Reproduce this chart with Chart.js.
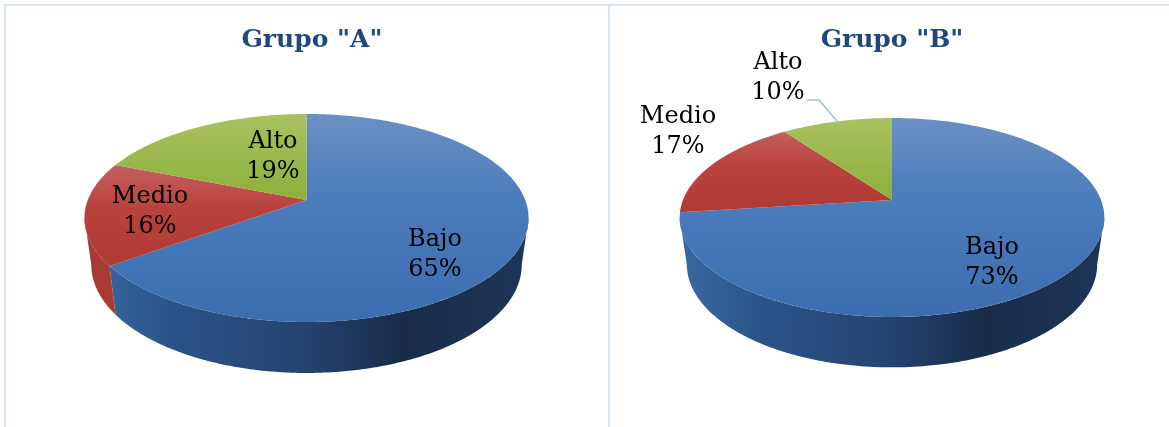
<!DOCTYPE html>
<html>
<head>
<meta charset="utf-8">
<title>Grupos</title>
<script src="https://cdn.jsdelivr.net/npm/chart.js@4/dist/chart.umd.min.js"></script>
<style>
    html, body { margin: 0; padding: 0; background: #fff; }
    #page { position: relative; width: 1169px; height: 427px; overflow: hidden; }
    canvas { position: absolute; top: 0; }
    #chartA { left: 0; }
    #chartB { left: 610px; }
    .rule { position: absolute; background: #d6e4f5; }
</style>
</head>
<body>
<div id="page">
    <div class="rule" style="left:4px;top:4px;width:1165px;height:2px"></div>
    <div class="rule" style="left:4px;top:4px;width:2px;height:423px"></div>
    <div class="rule" style="left:608px;top:4px;width:2px;height:423px"></div>
    <canvas id="chartA" width="624" height="427"></canvas>
    <canvas id="chartB" width="564" height="427"></canvas>
</div>
<script>
const categories = ["Bajo", "Medio", "Alto"];
const grupoA = [65, 16, 19];
const grupoB = [73, 17, 10];

const FONT = '"DejaVu Serif", serif';

// colour ramps for the top face and the rim of each slice
const topStops = [
    ["#6b8fc4", "#4a7bbb", "#3c6daf"],
    ["#c4605e", "#b8433e", "#b03a34"],
    ["#a9c262", "#9dba50", "#8cb03b"],
];
const rimStops = [
    ["#3768a0", "#2b5388", "#24436f", "#182c4a", "#1c3557"],
    ["#a83b33", "#a83b33", "#a83b33", "#8f2f2b", "#8f2f2b"],
    ["#7d9a35", "#7d9a35", "#6d8a2c", "#5f7a26", "#5f7a26"],
];

// Chart.js works out the slice angles, this plugin paints them as a tilted disc
const tiltedPie = {
    id: "tiltedPie",
    beforeDatasetsDraw(chart, args, o) {
        const ctx = chart.ctx;
        const arcs = chart.getDatasetMeta(0).data;

        const project = (ang, low) => {
            const u = Math.cos(ang), v = Math.sin(ang);
            const w = 1 - o.k * v;
            return low
                ? [o.cx + o.bLow * u / w, o.cy + o.drop + o.aLow * v / w]
                : [o.cx + o.b * u / w, o.cy + o.a * v / w];
        };
        const trace = (from, to, low) => {
            const pts = [];
            const steps = Math.max(2, Math.ceil(Math.abs(to - from) / 0.01));
            for (let i = 0; i <= steps; i++) {
                pts.push(project(from + (to - from) * i / steps, low));
            }
            return pts;
        };
        const fillPath = (pts, style) => {
            ctx.beginPath();
            pts.forEach((p, j) => j ? ctx.lineTo(p[0], p[1]) : ctx.moveTo(p[0], p[1]));
            ctx.closePath();
            ctx.fillStyle = style;
            ctx.fill();
        };

        ctx.save();
        // rim first, only the part facing the viewer
        const edge = Math.asin(o.k);
        arcs.forEach((arc, i) => {
            const from = Math.max(arc.startAngle, edge);
            const to = Math.min(arc.endAngle, Math.PI - edge);
            if (to <= from) return;
            const grad = ctx.createLinearGradient(o.cx - o.b, 0, o.cx + o.b, 0);
            [0, 0.2, 0.5, 0.72, 1].forEach((p, j) => grad.addColorStop(p, rimStops[i][j]));
            fillPath(trace(from, to, false).concat(trace(from, to, true).reverse()), grad);
        });
        // top face, each slice shaded over its own height
        arcs.forEach((arc, i) => {
            const pts = [[o.cx, o.cy]].concat(trace(arc.startAngle, arc.endAngle, false));
            const ys = pts.map(p => p[1]);
            const grad = ctx.createLinearGradient(0, Math.min(...ys), 0, Math.max(...ys));
            grad.addColorStop(0, topStops[i][0]);
            grad.addColorStop(0.42, topStops[i][1]);
            grad.addColorStop(1, topStops[i][2]);
            fillPath(pts, grad);
        });
        ctx.restore();
        return false;
    },
    afterDraw(chart, args, o) {
        const ctx = chart.ctx;
        ctx.save();
        if (o.leader) {
            ctx.beginPath();
            o.leader.forEach((p, j) => j ? ctx.lineTo(p[0], p[1]) : ctx.moveTo(p[0], p[1]));
            ctx.strokeStyle = "#9cc2ea";
            ctx.lineWidth = 1.6;
            ctx.stroke();
        }
        ctx.fillStyle = "#000";
        ctx.font = "24px " + FONT;
        ctx.textAlign = "center";
        ctx.textBaseline = "middle";
        const values = chart.data.datasets[0].data;
        chart.data.labels.forEach((name, i) => {
            const at = o.labelAt[i];
            ctx.fillText(name, at[0], at[1] - 15);
            ctx.fillText(values[i] + "%", at[0], at[1] + 15);
        });
        ctx.restore();
    },
};

function makeChart(id, title, values, geometry) {
    return new Chart(document.getElementById(id), {
        type: "pie",
        data: {
            labels: categories,
            datasets: [{ data: values, backgroundColor: ["#4a7bbb", "#b8433e", "#99b84c"], borderWidth: 0 }],
        },
        options: {
            responsive: false,
            animation: false,
            events: [],
            plugins: {
                legend: { display: false },
                tooltip: { enabled: false },
                title: {
                    display: true,
                    text: title,
                    color: "#1f497d",
                    font: { family: FONT, size: 25, weight: "bold" },
                    padding: { top: 25, bottom: 0 },
                },
                tiltedPie: geometry,
            },
        },
        plugins: [tiltedPie],
    });
}

makeChart("chartA", 'Grupo "A"', grupoA, {
    cx: 306.5, cy: 200, b: 218.7, a: 100.9, k: 0.173, drop: 46, bLow: 212, aLow: 105,
    labelAt: [[435, 255], [150, 212], [273, 157]],
});
makeChart("chartB", 'Grupo "B"', grupoB, {
    cx: 282, cy: 200, b: 209, a: 96.4, k: 0.176, drop: 46, bLow: 202, aLow: 100,
    labelAt: [[382, 263], [68, 132], [168, 78]],
    leader: [[197, 100], [209, 100], [227, 121]],
});
</script>
</body>
</html>
